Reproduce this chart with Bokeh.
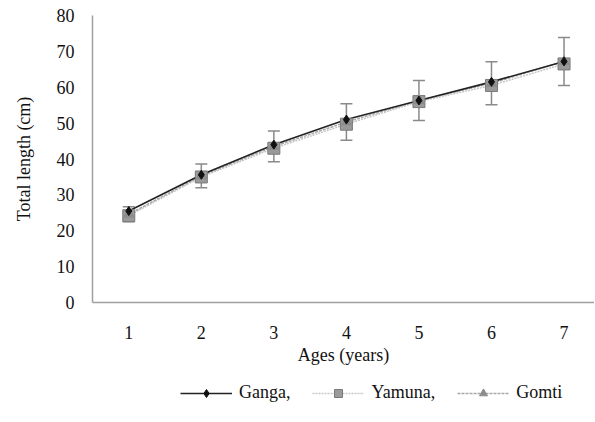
from bokeh.plotting import figure
from bokeh.layouts import column
from bokeh.models import Range1d, Whisker, TeeHead, ColumnDataSource, Legend, LegendItem, FixedTicker
from bokeh.embed import file_html
from bokeh.resources import INLINE

ages = [1, 2, 3, 4, 5, 6, 7]
ganga = [25.5, 35.6, 44.0, 51.0, 56.3, 61.5, 67.2]
yamuna = [24.2, 35.0, 43.0, 49.7, 56.0, 60.5, 66.5]
gomti = [24.6, 35.3, 43.5, 50.3, 56.3, 61.1, 67.2]
err = [2.1, 3.3, 4.3, 5.1, 5.6, 6.0, 6.7]
y_ticks = [0, 10, 20, 30, 40, 50, 60, 70, 80]
series = ["Ganga,", "Yamuna,", "Gomti"]

FONT = "Liberation Serif"

STY = {
    "Ganga,": dict(line=dict(line_color="#222222", line_width=1.6),
                   mark=dict(marker="diamond", size=9, fill_color="#111111", line_color="#111111")),
    "Yamuna,": dict(line=dict(line_color="#c8c8c8", line_width=1.5, line_dash="2 1"),
                    mark=dict(marker="square", size=12, fill_color="#9a9a9a", line_color="#7a7a7a")),
    "Gomti": dict(line=dict(line_color="#a8a8a8", line_width=1.5, line_dash="3 1"),
                  mark=dict(marker="triangle", size=10, fill_color="#8c8c8c", line_color="#8c8c8c")),
}
cols = {"Ganga,": "ganga", "Yamuna,": "yamuna", "Gomti": "gomti"}

p = figure(frame_width=502, frame_height=287, output_backend="svg", toolbar_location=None,
           x_range=Range1d(0.5, 7.42), y_range=Range1d(0, 80),
           min_border_left=92, min_border_top=15, min_border_right=0, min_border_bottom=70)
p.outline_line_color = None
p.xgrid.visible = False
p.ygrid.visible = False

for ax in (p.xaxis[0], p.yaxis[0]):
    ax.axis_line_color = "#a0a0a0"
    ax.axis_line_width = 1.5
    ax.major_tick_line_color = None
    ax.minor_tick_line_color = None
    ax.major_label_text_font = FONT
    ax.major_label_text_font_size = "18px"
    ax.major_label_text_color = "#111111"
    ax.axis_label_text_font = FONT
    ax.axis_label_text_font_size = "18px"
    ax.axis_label_text_font_style = "normal"
    ax.axis_label_text_color = "#111111"

p.xaxis.ticker = FixedTicker(ticks=ages)
p.yaxis.ticker = FixedTicker(ticks=y_ticks)
p.xaxis.axis_label = "Ages (years)"
p.yaxis.axis_label = "Total length (cm)"
p.xaxis.major_label_standoff = 17
p.xaxis.axis_label_standoff = 3
p.yaxis.major_label_standoff = 12
p.yaxis.axis_label_standoff = 20

src = ColumnDataSource(dict(x=ages, ganga=ganga, yamuna=yamuna, gomti=gomti,
                            lo=[g - e for g, e in zip(gomti, err)],
                            hi=[g + e for g, e in zip(gomti, err)]))

w = Whisker(source=src, base="x", lower="lo", upper="hi",
            line_color="#8a8a8a", line_width=1.5,
            upper_head=TeeHead(size=12, line_color="#8a8a8a", line_width=1.5),
            lower_head=TeeHead(size=12, line_color="#8a8a8a", line_width=1.5))
p.add_layout(w)

for name in ["Yamuna,", "Gomti", "Ganga,"]:
    p.line("x", cols[name], source=src, **STY[name]["line"])
for name in ["Yamuna,", "Gomti", "Ganga,"]:
    p.scatter("x", cols[name], source=src, **STY[name]["mark"])

# legend strip below the chart (its frame is aligned with the chart frame)
lf = figure(width=595, height=50, output_backend="svg", toolbar_location=None,
            x_range=Range1d(-10, -9), y_range=Range1d(-10, -9),
            x_axis_type=None, y_axis_type=None,
            min_border_left=0, min_border_right=0, min_border_top=0, min_border_bottom=0)
lf.outline_line_color = None
lf.xgrid.visible = False
lf.ygrid.visible = False
items = []
for name in series:
    r1 = lf.line("x", cols[name], source=src, **STY[name]["line"])
    r2 = lf.scatter("x", cols[name], source=src, **STY[name]["mark"])
    items.append(LegendItem(label=name, renderers=[r1, r2]))

legend = Legend(items=items, orientation="horizontal", location=(88, 19))
legend.label_text_font = FONT
legend.label_text_font_size = "18px"
legend.label_text_color = "#111111"
legend.glyph_width = 52
legend.glyph_height = 20
legend.spacing = 22
legend.label_standoff = 7
legend.border_line_color = None
legend.background_fill_alpha = 0
legend.margin = 0
legend.padding = 0
lf.add_layout(legend)

layout = column(p, lf, spacing=0)
open("out.html", "w").write(file_html(layout, INLINE))
